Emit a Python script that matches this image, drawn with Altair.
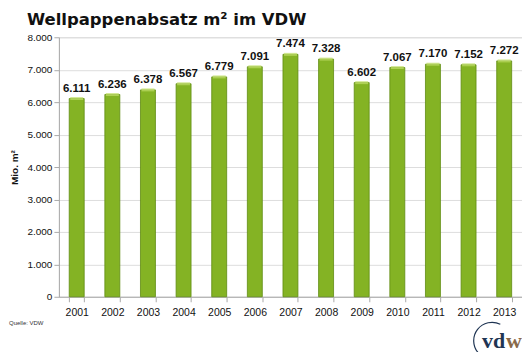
import altair as alt
import pandas as pd

years = ["2001", "2002", "2003", "2004", "2005", "2006", "2007", "2008", "2009", "2010", "2011", "2012", "2013"]
values = [6111, 6236, 6378, 6567, 6779, 7091, 7474, 7328, 6602, 7067, 7170, 7152, 7272]
y_ticks = [0, 1000, 2000, 3000, 4000, 5000, 6000, 7000, 8000]

df = pd.DataFrame({
    "year": years,
    "value": values,
    "label": [f"{v:,}".replace(",", ".") for v in values],
})

FONT = "Liberation Sans"

x = alt.X("year:N", title=None, sort=years,
          scale=alt.Scale(paddingInner=0.58, paddingOuter=0.29),
          axis=alt.Axis(labelAngle=0, labelFontSize=10.5, labelColor="#111", labelFont=FONT,
                        domainColor="#aaa", tickColor="#aaa", tickBand="extent", labelPadding=6,
                        labelOverlap=False, grid=False))
y = alt.Y("value:Q", title="Mio. m²",
          scale=alt.Scale(domain=[0, 8000], nice=False),
          axis=alt.Axis(values=y_ticks,
                        labelExpr="replace(format(datum.value, ','), ',', '.')",
                        labelFontSize=10, labelColor="#111", labelFont=FONT, labelOverlap=False,
                        titleFont=FONT, titleFontSize=10, titleFontWeight="bold", titleColor="#111",
                        titleX=-44, titleY=130, titleAngle=270, titleAlign="center",
                        titleBaseline="middle",
                        domainColor="#aaa", tickColor="#aaa", tickSize=5,
                        gridColor="#ddd"))

base = alt.Chart(df)

bars = base.mark_bar(color="#84b324", stroke="#5f8c12", strokeWidth=0.8).encode(x=x, y=y)
caps = base.mark_tick(color="#c2e06a", thickness=3, size=13).encode(x=x, y=y)
labels = base.mark_text(dy=-10, fontSize=11.5, fontWeight="bold", font=FONT, color="#111").encode(
    x=x, y=y, text="label:N")

title = alt.Chart(pd.DataFrame({"t": ["Wellpappenabsatz m² im VDW"]})).mark_text(
    align="left", baseline="alphabetic", fontSize=16.5, fontWeight="bold",
    font="DejaVu Sans", color="#111"
).encode(x=alt.value(-32), y=alt.value(-12), text="t:N")

src = alt.Chart(pd.DataFrame({"t": ["Quelle: VDW"]})).mark_text(
    align="left", baseline="alphabetic", fontSize=6, font=FONT, color="#333"
).encode(x=alt.value(-50), y=alt.value(288), text="t:N")

logo_parts = ["vd", "w"]
logo_x = [424, 448]
logo_colors = ["#1f3553", "#8a6a4a"]
logo_layers = [
    alt.Chart(pd.DataFrame({"t": [ch]})).mark_text(
        align="left", baseline="alphabetic", fontSize=22, fontWeight="bold",
        font="Liberation Serif", color=col
    ).encode(x=alt.value(px), y=alt.value(311), text="t:N")
    for ch, px, col in zip(logo_parts, logo_x, logo_colors)
]
logo_arc = alt.Chart(pd.DataFrame({"t": [1]})).mark_arc(
    radius=19, radius2=17.8, theta=4.0, theta2=6.75, color="#1f3553"
).encode(x=alt.value(434), y=alt.value(304))
logo_arc_fade = alt.Chart(pd.DataFrame({"t": [1]})).mark_arc(
    radius=19, radius2=17.8, theta=3.3, theta2=4.0, color="#b8c2cf"
).encode(x=alt.value(434), y=alt.value(304))

chart = alt.layer(bars, caps, labels, title, src, logo_arc_fade, logo_arc, *logo_layers).properties(
    width=464, height=260,
    autosize=alt.AutoSizeParams(type="none"),
    padding={"left": 51, "top": 29, "right": 0, "bottom": 55},
).configure_view(stroke=None).configure(background="white")

chart.save("out.html", embed_options={"renderer": "svg", "actions": False})
